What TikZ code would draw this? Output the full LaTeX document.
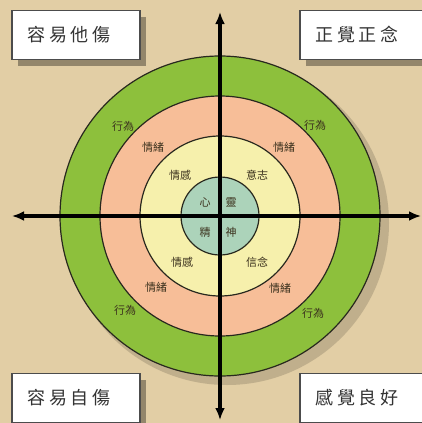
\documentclass[tikz,border=0pt]{standalone}
\usepackage{fontspec}
\newfontfamily\cjk[LetterSpace=20]{Noto Sans CJK TC}
\newfontfamily\cjksmall{Noto Sans CJK TC}
\usetikzlibrary{arrows.meta,shadows}

\definecolor{parchment}{RGB}{226,206,165}
\definecolor{ringgreen}{RGB}{141,192,60}
\definecolor{ringsalmon}{RGB}{247,190,152}
\definecolor{ringyellow}{RGB}{246,240,172}
\definecolor{ringteal}{RGB}{172,211,186}
\definecolor{inkline}{RGB}{40,40,30}
\definecolor{labelink}{RGB}{60,50,30}

\begin{document}
\begin{tikzpicture}[x=0.5pt,y=-0.5pt,
    ring/.style={draw=inkline,line width=0.6pt},
    axis/.style={line width=2pt,{Latex[length=6pt,width=5pt]}-{Latex[length=6pt,width=5pt]}},
    tagbox/.style={draw=black!70,fill=white,line width=0.8pt,anchor=west,
        minimum height=24.5pt,inner xsep=8pt,align=left,
        font=\cjk\fontsize{9}{9}\selectfont,text=black!80,
        drop shadow={shadow xshift=3pt,shadow yshift=-3pt,opacity=.35,fill=black}},
    ringlabel/.style={font=\cjksmall\fontsize{5.5}{5.5}\selectfont,text=labelink,inner sep=0}]
  \clip (0,0) rectangle (422,423);
  \fill[parchment] (0,0) rectangle (422,423);

  \coordinate (c) at (220,216);

  % rings, outermost first
  \fill[black,opacity=.15] ([shift={(7,7)}]c) circle[radius=162];
  \filldraw[ring,fill=ringgreen] (c) circle[radius=160];
  \filldraw[ring,fill=ringsalmon] (c) circle[radius=120];
  \filldraw[ring,fill=ringyellow] (c) circle[radius=80];
  \filldraw[ring,fill=ringteal] (c) circle[radius=39];

  % ring labels
  \node[ringlabel] (act1) at ([shift={(-97,-90)}]c) {行為};
  \node[ringlabel] (act2) at ([shift={(95,-91)}]c) {行為};
  \node[ringlabel] (act3) at ([shift={(-95,94)}]c) {行為};
  \node[ringlabel] (act4) at ([shift={(93,97)}]c) {行為};
  \node[ringlabel] (emo1) at ([shift={(-67,-69)}]c) {情緒};
  \node[ringlabel] (emo2) at ([shift={(64,-69)}]c) {情緒};
  \node[ringlabel] (emo3) at ([shift={(-64,71)}]c) {情緒};
  \node[ringlabel] (emo4) at ([shift={(60,72)}]c) {情緒};
  \node[ringlabel] (feel1) at ([shift={(-40,-41)}]c) {情感};
  \node[ringlabel] (will) at ([shift={(37,-41)}]c) {意志};
  \node[ringlabel] (feel2) at ([shift={(-38,46)}]c) {情感};
  \node[ringlabel] (faith) at ([shift={(37,46)}]c) {信念};
  \node[ringlabel] (xin) at ([shift={(-15,-14)}]c) {心};
  \node[ringlabel] (ling) at ([shift={(11,-14)}]c) {靈};
  \node[ringlabel] (jing) at ([shift={(-15,16)}]c) {精};
  \node[ringlabel] (shen) at ([shift={(11,16)}]c) {神};

  % axes
  \coordinate (W) at (12,216);
  \coordinate (E) at (421,216);
  \coordinate (N) at (220,12);
  \coordinate (S) at (220,420);
  \draw[axis] (W) -- (E);
  \draw[axis] (N) -- (S);

  % corner boxes
  \node[tagbox,text width=48pt] (tl) at (11,35) {容易他傷};
  \node[tagbox,text width=60pt] (tr) at (299,35) {正覺正念};
  \node[tagbox,text width=48pt] (bl) at (11,398) {容易自傷};
  \node[tagbox,text width=60pt] (br) at (299,398) {感覺良好};
\end{tikzpicture}
\end{document}
